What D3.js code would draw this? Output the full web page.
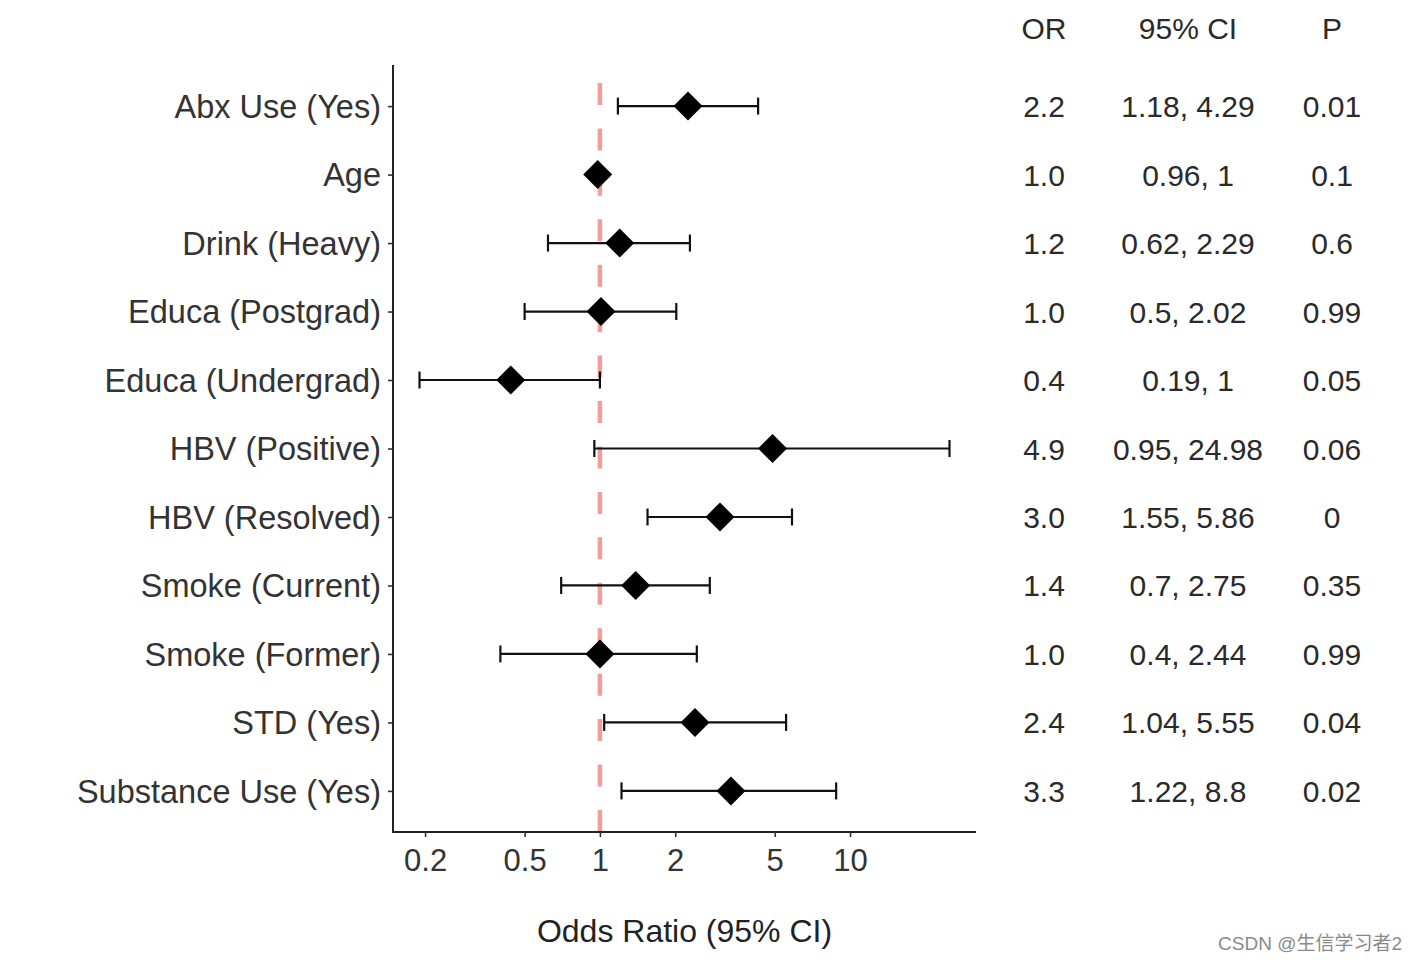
<!DOCTYPE html>
<html>
<head>
<meta charset="utf-8">
<script src="https://cdn.jsdelivr.net/npm/d3@7"></script>
<style>
  html, body { margin: 0; padding: 0; background: #fff; }
  svg { display: block; font-family: "Liberation Sans", Arial, Helvetica, sans-serif; }
</style>
</head>
<body>
<svg id="chart" width="1416" height="962"></svg>
<script>
// ---- data ----
const categories = ["Abx Use (Yes)", "Age", "Drink (Heavy)", "Educa (Postgrad)", "Educa (Undergrad)",
  "HBV (Positive)", "HBV (Resolved)", "Smoke (Current)", "Smoke (Former)", "STD (Yes)", "Substance Use (Yes)"];
const orValues   = [2.25, 0.98, 1.20, 1.01, 0.44, 4.90, 3.02, 1.39, 1.00, 2.40, 3.34];
const ciLower    = [1.18, 0.96, 0.62, 0.50, 0.19, 0.95, 1.55, 0.70, 0.40, 1.04, 1.22];
const ciUpper    = [4.29, 1.00, 2.29, 2.02, 1.00, 24.98, 5.86, 2.75, 2.44, 5.55, 8.80];
const orLabels   = ["2.2", "1.0", "1.2", "1.0", "0.4", "4.9", "3.0", "1.4", "1.0", "2.4", "3.3"];
const ciLabels   = ["1.18, 4.29", "0.96, 1", "0.62, 2.29", "0.5, 2.02", "0.19, 1", "0.95, 24.98",
  "1.55, 5.86", "0.7, 2.75", "0.4, 2.44", "1.04, 5.55", "1.22, 8.8"];
const pLabels    = ["0.01", "0.1", "0.6", "0.99", "0.05", "0.06", "0", "0.35", "0.99", "0.04", "0.02"];
const xTicks     = [0.2, 0.5, 1, 2, 5, 10];
const tableHeaders = ["OR", "95% CI", "P"];

// ---- layout ----
const svg = d3.select("#chart");
const panel = { left: 393, right: 976, top: 65, bottom: 832 };

const lo = d3.min(ciLower), hi = d3.max(ciUpper);
const l0 = Math.log10(lo), l1 = Math.log10(hi), pad = (l1 - l0) * 0.05;
const x = d3.scaleLog().domain([Math.pow(10, l0 - pad), Math.pow(10, l1 + pad)]).range([panel.left, panel.right]);
const y = d3.scalePoint().domain(categories).range([panel.top, panel.bottom]).padding(0.6);

const rows = categories.map((c, i) => ({
  cat: c, or: orValues[i], lo: ciLower[i], hi: ciUpper[i],
  orL: orLabels[i], ciL: ciLabels[i], pL: pLabels[i]
}));

// reference line at 1 (drawn bottom-up so the dash phase starts at the x axis)
svg.append("line")
  .attr("x1", x(1)).attr("x2", x(1))
  .attr("y1", panel.bottom).attr("y2", panel.top)
  .attr("stroke", "#F29C9C").attr("stroke-width", 4.5)
  .attr("stroke-dasharray", "22 23.44");

// error bars
const eb = svg.append("g").attr("stroke", "#111").attr("stroke-width", 2.2);
rows.forEach(d => {
  const yy = y(d.cat);
  eb.append("line").attr("x1", x(d.lo)).attr("x2", x(d.hi)).attr("y1", yy).attr("y2", yy);
  eb.append("line").attr("x1", x(d.lo)).attr("x2", x(d.lo)).attr("y1", yy - 8.5).attr("y2", yy + 8.5);
  eb.append("line").attr("x1", x(d.hi)).attr("x2", x(d.hi)).attr("y1", yy - 8.5).attr("y2", yy + 8.5);
});

// diamonds
const r = 14.5;
svg.append("g").selectAll("path").data(rows).join("path")
  .attr("d", d => {
    const cx = x(d.or), cy = y(d.cat);
    return `M${cx},${cy - r}L${cx + r},${cy}L${cx},${cy + r}L${cx - r},${cy}Z`;
  })
  .attr("fill", "#000");

// axes
const yAxis = d3.axisLeft(y).tickSize(5).tickPadding(7);
const gy = svg.append("g").attr("transform", `translate(${panel.left},0)`).call(yAxis);
gy.select(".domain").attr("d", `M0,${panel.top}V${panel.bottom + 1}`).attr("stroke", "#222").attr("stroke-width", 2);
gy.selectAll(".tick line").attr("stroke", "#333").attr("stroke-width", 1.6);
gy.selectAll(".tick text").attr("fill", "#333").attr("font-size", 32.5)
  .attr("font-family", "'Liberation Sans', Arial, sans-serif").attr("dy", "0.35em");

const xAxis = d3.axisBottom(x).tickValues(xTicks).tickFormat(d3.format("~g")).tickSize(5).tickPadding(12);
const gx = svg.append("g").attr("transform", `translate(0,${panel.bottom})`).call(xAxis);
gx.select(".domain").attr("d", `M${panel.left - 1},0H${panel.right}`).attr("stroke", "#222").attr("stroke-width", 2);
gx.selectAll(".tick line").attr("stroke", "#333").attr("stroke-width", 1.6);
gx.selectAll(".tick text").attr("fill", "#333").attr("font-size", 31)
  .attr("font-family", "'Liberation Sans', Arial, sans-serif");

// axis title
svg.append("text")
  .attr("x", (panel.left + panel.right) / 2).attr("y", 942)
  .attr("text-anchor", "middle").attr("font-size", 32).attr("fill", "#222")
  .text("Odds Ratio (95% CI)");

// table
const colX = [1044, 1188, 1332];
const tbl = svg.append("g").attr("font-size", 30).attr("fill", "#2a2a2a").attr("text-anchor", "middle");
tableHeaders.forEach((h, i) => {
  tbl.append("text").attr("x", colX[i]).attr("y", 28).attr("dy", "0.35em").text(h);
});
rows.forEach(d => {
  const yy = y(d.cat) + 0.5;
  tbl.append("text").attr("x", colX[0]).attr("y", yy).attr("dy", "0.35em").text(d.orL);
  tbl.append("text").attr("x", colX[1]).attr("y", yy).attr("dy", "0.35em").text(d.ciL);
  tbl.append("text").attr("x", colX[2]).attr("y", yy).attr("dy", "0.35em").text(d.pL);
});

// watermark
svg.append("text")
  .attr("x", 1402).attr("y", 950).attr("text-anchor", "end")
  .attr("font-size", 19).attr("fill", "#8a8a8a")
  .attr("font-family", "'Liberation Sans', 'Noto Sans CJK SC', sans-serif")
  .text("CSDN @生信学习者2");
</script>
</body>
</html>
